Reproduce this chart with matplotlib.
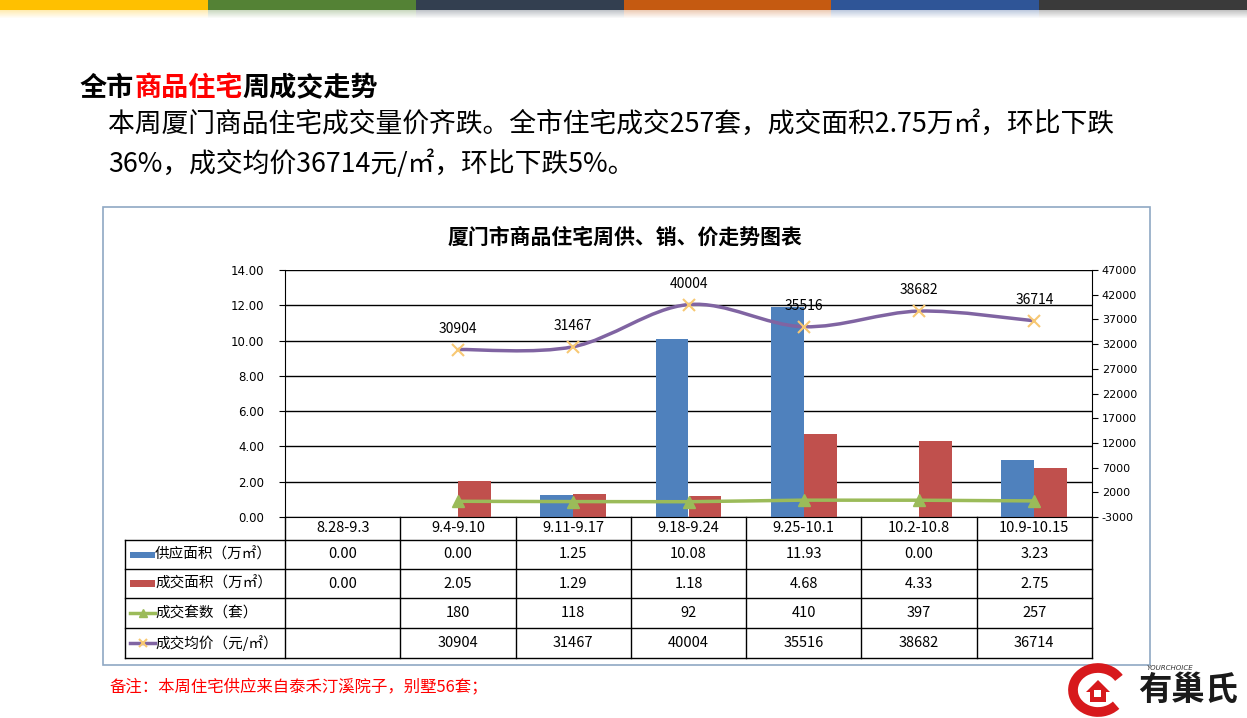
import matplotlib
matplotlib.use("Agg")
import matplotlib.pyplot as plt
from matplotlib.patches import Rectangle, PathPatch, Arc, Polygon
from matplotlib.path import Path
import numpy as np

plt.rcParams['font.family'] = ['Noto Sans CJK SC', 'DejaVu Sans']

# ---------------- data ----------------
categories = ["8.28-9.3", "9.4-9.10", "9.11-9.17", "9.18-9.24", "9.25-10.1", "10.2-10.8", "10.9-10.15"]
supply_area = [0.00, 0.00, 1.25, 10.08, 11.93, 0.00, 3.23]
sales_area = [0.00, 2.05, 1.29, 1.18, 4.68, 4.33, 2.75]
units_sold = [None, 180, 118, 92, 410, 397, 257]
avg_price = [None, 30904, 31467, 40004, 35516, 38682, 36714]
series_names = ["供应面积（万㎡）", "成交面积（万㎡）", "成交套数（套）", "成交均价（元/㎡）"]
left_ticks = [0, 2, 4, 6, 8, 10, 12, 14]
right_ticks = list(range(-3000, 47001, 5000))
top_colors = ["#FFC000", "#548235", "#333F50", "#C55A11", "#2F5597", "#3A3A3A"]

C_BLUE = "#4F81BD"
C_RED = "#C0504D"
C_GREEN = "#9BBB59"
C_PURPLE = "#8064A2"
C_MARK = "#F7C873"

W, H = 1247, 718
fig = plt.figure(figsize=(W / 100, H / 100), dpi=100)
fig.patch.set_facecolor("white")

# overlay in pixel coords
ov = fig.add_axes([0, 0, 1, 1], zorder=0)
ov.set_xlim(0, W)
ov.set_ylim(H, 0)
ov.axis("off")

# top colour strip
bw = W / len(top_colors)
for i, c in enumerate(top_colors):
    ov.add_patch(Rectangle((i * bw, 0), bw, 10, color=c, lw=0))
    for k in range(8):
        ov.add_patch(Rectangle((i * bw, 10 + k), bw, 1, color=c, lw=0, alpha=0.3 * (1 - k / 8)))

# heading
t1 = ov.text(80, 88, "全市", fontsize=19.5, fontweight="bold", color="black", va="center", ha="left")
t2 = ov.annotate("商品住宅", xy=(1, 0), xycoords=t1, fontsize=19.5, fontweight="bold",
                 color="#FF0000", va="bottom", ha="left")
t3 = ov.annotate("周成交走势", xy=(1, 0), xycoords=t2, fontsize=19.5, fontweight="bold",
                 color="black", va="bottom", ha="left")
ov.text(108, 124, "本周厦门商品住宅成交量价齐跌。全市住宅成交257套，成交面积2.75万㎡，环比下跌",
        fontsize=19.3, color="black", va="center", ha="left")
ov.text(108, 164, "36%，成交均价36714元/㎡，环比下跌5%。",
        fontsize=19.3, color="black", va="center", ha="left")

# chart border
ov.add_patch(Rectangle((103, 207), 1150 - 103, 665 - 207, fill=False, ec="#8FA8C4", lw=1.2))
ov.text(625, 237, "厦门市商品住宅周供、销、价走势图表", fontsize=15, fontweight="bold",
        va="center", ha="center")

# plot area geometry
L, R, T, B = 285, 1092, 270, 517
ax = fig.add_axes([L / W, 1 - B / H, (R - L) / W, (B - T) / H], zorder=2)
ax.patch.set_alpha(0)
n = len(categories)
x = np.arange(n)
bwid = 0.286
ax.bar(x - bwid / 2, supply_area, width=bwid, color=C_BLUE, zorder=2)
ax.bar(x + bwid / 2, sales_area, width=bwid, color=C_RED, zorder=2)
ax.set_xlim(-0.5, n - 0.5)
ax.set_ylim(0, 14)
ax.set_yticks(left_ticks)
ax.set_yticklabels([f"{v:.2f}" for v in left_ticks], fontsize=8.5, family="DejaVu Sans")
ax.set_axisbelow(True)
ax.yaxis.grid(True, color="black", lw=1)
ax.set_xticks([])
for s in ["top", "right"]:
    ax.spines[s].set_visible(False)
ax.spines["left"].set_color("black")
ax.spines["bottom"].set_color("black")
ax.tick_params(axis="y", direction="out", length=4, color="black", pad=11)

ax2 = ax.twinx()
ax2.set_ylim(-3000, 47000)
ax2.set_yticks(right_ticks)
ax2.set_yticklabels([str(v) for v in right_ticks], fontsize=8, family="DejaVu Sans")
ax2.tick_params(axis="y", direction="out", length=4, color="black", pad=3)
for s in ["top", "left", "bottom"]:
    ax2.spines[s].set_visible(False)
ax2.spines["right"].set_color("black")

# units line (secondary axis)
ux = [i for i, v in enumerate(units_sold) if v is not None]
uy = [v for v in units_sold if v is not None]
ax2.plot(ux, uy, color=C_GREEN, lw=2.5, marker="^", ms=8, mfc=C_GREEN, mec=C_GREEN, zorder=3)

# smoothed price line (secondary axis)
px = [i for i, v in enumerate(avg_price) if v is not None]
py = [v for v in avg_price if v is not None]
P = np.column_stack([px, py]).astype(float)
verts = [tuple(P[0])]
codes = [Path.MOVETO]
for i in range(len(P) - 1):
    p0 = P[i - 1] if i > 0 else P[i]
    p1, p2 = P[i], P[i + 1]
    p3 = P[i + 2] if i + 2 < len(P) else P[i + 1]
    c1 = p1 + (p2 - p0) / 6
    c2 = p2 - (p3 - p1) / 6
    verts += [tuple(c1), tuple(c2), tuple(p2)]
    codes += [Path.CURVE4] * 3
ax2.add_patch(PathPatch(Path(verts, codes), fill=False, ec=C_PURPLE, lw=2.5, zorder=4))
ax2.plot(px, py, ls="none", marker="x", ms=8, mew=1.5, color=C_MARK, zorder=5)
for xi, yi in zip(px, py):
    ax2.annotate(str(yi), (xi, yi), xytext=(0, 21), textcoords="offset pixels",
                 ha="center", va="center", fontsize=10, color="black", zorder=6)

# ---------------- table ----------------
colw = (R - L) / n
rows_y = [517, 540, 569, 598, 628, 658]
TL = 125
lk = dict(color="black", lw=1)
for yy in rows_y[1:]:
    ov.plot([TL, R], [yy, yy], **lk)
for i in range(n + 1):
    xx = L + i * colw
    ov.plot([xx, xx], [517, 658], **lk)
ov.plot([TL, TL], [540, 658], **lk)

for i, c in enumerate(categories):
    ov.text(L + (i + 0.5) * colw, (517 + 540) / 2, c, fontsize=10.5, ha="center", va="center")

row_vals = [
    [f"{v:.2f}" for v in supply_area],
    [f"{v:.2f}" for v in sales_area],
    ["" if v is None else str(v) for v in units_sold],
    ["" if v is None else str(v) for v in avg_price],
]
for r, vals in enumerate(row_vals):
    yc = (rows_y[r + 1] + rows_y[r + 2]) / 2
    for i, s in enumerate(vals):
        ov.text(L + (i + 0.5) * colw, yc, s, fontsize=10.5, ha="center", va="center")
    ov.text(155, yc, series_names[r], fontsize=10.5, ha="left", va="center")

# legend keys
y0 = (rows_y[1] + rows_y[2]) / 2
ov.add_patch(Rectangle((130, y0 - 3), 25, 6, color=C_BLUE, lw=0))
y1 = (rows_y[2] + rows_y[3]) / 2
ov.add_patch(Rectangle((130, y1 - 4), 25, 7, color=C_RED, lw=0))
y2 = (rows_y[3] + rows_y[4]) / 2
ov.plot([130, 155], [y2, y2], color=C_GREEN, lw=2.5)
ov.plot([142.5], [y2], marker="^", ms=6, color=C_GREEN)
y3 = (rows_y[4] + rows_y[5]) / 2
ov.plot([130, 155], [y3, y3], color=C_PURPLE, lw=2.5)
ov.plot([142.5], [y3], marker="x", ms=6, mew=1.5, color=C_MARK)

# footnote
ov.text(110, 687, "备注：本周住宅供应来自泰禾汀溪院子，别墅56套；", fontsize=11.8,
        color="#FF0000", ha="left", va="center")

# logo
ov.add_patch(Arc((1098, 690), 50, 44, theta1=40, theta2=330, color="#D7191C", lw=7))
ov.add_patch(Polygon([[1086, 692], [1098, 680], [1110, 692], [1106, 692], [1106, 702], [1090, 702], [1090, 692]],
                     closed=True, color="#D7191C", lw=0))
ov.add_patch(Rectangle((1094, 690), 7, 7, color="white", lw=0))
ov.text(1188, 690, "有巢氏", fontsize=24, fontweight="heavy", color="#1A1A1A", ha="center", va="center")
ov.text(1170, 668, "YOURCHOICE", fontsize=5, style="italic", color="#333333", ha="center",
        va="center", family="DejaVu Sans")

fig.savefig("out.png", dpi=100, facecolor="white")
